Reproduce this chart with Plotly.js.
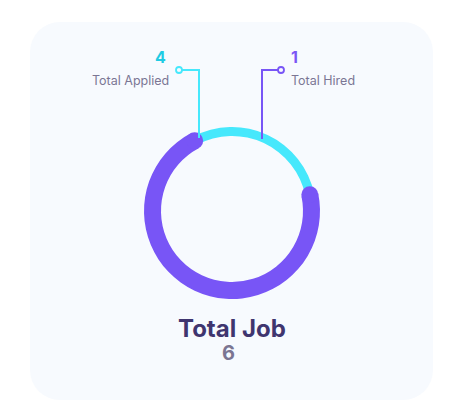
<!DOCTYPE html>
<html><head><meta charset="utf-8">
<script src="https://cdn.plot.ly/plotly-3.0.1.min.js"></script>
<style>
html,body{margin:0;padding:0;background:#ffffff;}
#card{position:absolute;left:30px;top:22px;width:403px;height:378px;background:#f7fafe;border-radius:30px;}
#chart{position:absolute;left:0;top:0;width:474px;height:412px;}
</style></head>
<body><div id="card"></div><div id="chart"></div>
<script>
const labels = ["Total Applied", "Total Hired"];
const values = [4, 1];
const totalJob = 6;
const titleText = "Total Job";
// ring shares: [cyan arc, purple arc]
const ringShares = [0.295, 0.705];

const W = 474, H = 412;
const cx = 232, cy = 211;
const purple = "#7855f6", cyan = "#46e8fc";
const ringMid = 79.5, capR = 8.5;

const startDeg = -28;
const endDeg = startDeg + 360 * ringShares[0] / (ringShares[0] + ringShares[1]);

function dom(r) {
  return {x: [(cx - r) / W, (cx + r) / W], y: [1 - (cy + r) / H, 1 - (cy - r) / H]};
}

const purpleRing = {
  type: "pie", values: ringShares, sort: false, direction: "clockwise", rotation: startDeg,
  hole: 71 / 88, domain: dom(88), textinfo: "none", hoverinfo: "skip",
  marker: {colors: ["rgba(0,0,0,0)", purple], line: {width: 0}}, showlegend: false
};
const cyanRing = {
  type: "pie", values: ringShares, sort: false, direction: "clockwise", rotation: startDeg,
  hole: 75 / 84, domain: dom(84), textinfo: "none", hoverinfo: "skip",
  marker: {colors: [cyan, "rgba(0,0,0,0)"], line: {width: 0}}, showlegend: false
};

function pt(deg, r) {
  const a = deg * Math.PI / 180;
  return [cx + r * Math.sin(a), cy - r * Math.cos(a)];
}
const shapes = [];
[startDeg, endDeg].forEach(d => {
  const [x, y] = pt(d, ringMid);
  shapes.push({type: "circle", xref: "x", yref: "y", layer: "above",
    x0: x - capR, x1: x + capR, y0: y - capR, y1: y + capR,
    fillcolor: purple, line: {width: 0}});
});
// leader lines
shapes.push({type: "path", xref: "x", yref: "y", layer: "above",
  path: "M199,138 L199,70 L182,70", line: {color: cyan, width: 2}});
shapes.push({type: "path", xref: "x", yref: "y", layer: "above",
  path: "M262,139 L262,70 L278,70", line: {color: purple, width: 2}});
shapes.push({type: "circle", xref: "x", yref: "y", layer: "above",
  x0: 176, x1: 182, y0: 67, y1: 73, fillcolor: "#f7fafe", line: {color: cyan, width: 1.8}});
shapes.push({type: "circle", xref: "x", yref: "y", layer: "above",
  x0: 278, x1: 284, y0: 67, y1: 73, fillcolor: "#f7fafe", line: {color: purple, width: 1.8}});

const fam = "Inter, 'Open Sans', sans-serif";
const annotations = [
  {x: 168, y: 57, text: "<b>" + values[0] + "</b>", showarrow: false, xanchor: "right", yanchor: "middle",
   font: {family: fam, size: 16, color: "#1ecbe3"}},
  {x: 171, y: 80, text: labels[0], showarrow: false, xanchor: "right", yanchor: "middle",
   font: {family: fam, size: 12.5, color: "#7b7694"}},
  {x: 289, y: 57, text: "<b>" + values[1] + "</b>", showarrow: false, xanchor: "left", yanchor: "middle",
   font: {family: fam, size: 16, color: "#7a55f5"}},
  {x: 289, y: 80, text: labels[1], showarrow: false, xanchor: "left", yanchor: "middle",
   font: {family: fam, size: 12.5, color: "#7b7694"}},
  {x: 232, y: 328, text: "<b>" + titleText + "</b>", showarrow: false, xanchor: "center", yanchor: "middle",
   font: {family: fam, size: 24, color: "#3f356f"}},
  {x: 228, y: 353, text: "<b>" + totalJob + "</b>", showarrow: false, xanchor: "center", yanchor: "middle",
   font: {family: fam, size: 20, color: "#7b7592"}}
];

const layout = {
  width: W, height: H, margin: {l: 0, r: 0, t: 0, b: 0},
  paper_bgcolor: "rgba(0,0,0,0)", plot_bgcolor: "rgba(0,0,0,0)",
  xaxis: {range: [0, W], visible: false, fixedrange: true, domain: [0, 1]},
  yaxis: {range: [H, 0], visible: false, fixedrange: true, domain: [0, 1]},
  shapes: shapes, annotations: annotations, showlegend: false
};
const dummy = {type: "scatter", x: [0], y: [0], mode: "markers", marker: {opacity: 0}, hoverinfo: "skip", showlegend: false};
Plotly.newPlot("chart", [dummy, purpleRing, cyanRing], layout, {displayModeBar: false, staticPlot: true});
</script></body></html>
